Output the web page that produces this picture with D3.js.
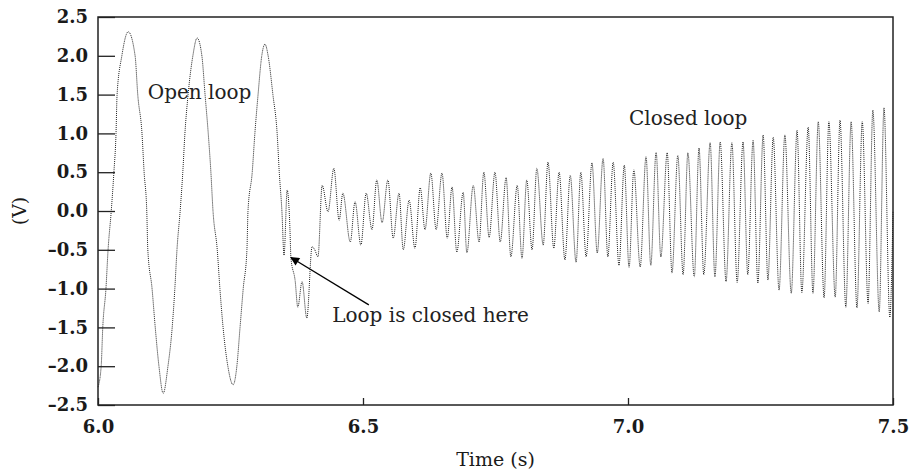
<!DOCTYPE html>
<html lang="en">
<head>
    <meta charset="UTF-8">
    <title>Open / closed loop</title>
    <script src="https://d3js.org/d3.v7.min.js"></script>
    <style>
        body { margin: 0; background: #fff; }
        .tick text {
            font-family: 'DejaVu Serif', serif;
            font-size: 18px;
            font-weight: bold;
            fill: #1a1a1a;
        }
        .note {
            font-family: 'DejaVu Serif', serif;
            font-size: 20px;
            fill: #222;
        }
        .title {
            font-family: 'DejaVu Serif', serif;
            font-size: 19px;
            fill: #1a1a1a;
        }
    </style>
</head>
<body>
<script>
    const width  = 909;
    const height = 472;
    const margin = {top: 17, right: 16, bottom: 67, left: 98};

    // open loop part (s, V)
    const openT = [6.000, 6.006, 6.009, 6.015, 6.019, 6.025, 6.030, 6.034, 6.036, 6.045, 6.057,
                   6.070, 6.075, 6.083, 6.087, 6.092, 6.094, 6.102, 6.108, 6.115, 6.123,
                   6.132, 6.140, 6.145, 6.149, 6.155, 6.160, 6.164, 6.170, 6.179, 6.187,
                   6.196, 6.202, 6.208, 6.213, 6.217, 6.225, 6.230, 6.236, 6.245, 6.255,
                   6.262, 6.268, 6.274, 6.281, 6.283, 6.291, 6.296, 6.302, 6.309, 6.315,
                   6.321, 6.330, 6.338, 6.342];
    const openV = [-2.27, -2.0, -1.5, -1.0, -0.5, 0.0, 0.5, 1.0, 1.5, 2.0, 2.31,
                   2.0, 1.5, 1.0, 0.5, 0.0, -0.5, -1.0, -1.5, -2.0, -2.35,
                   -2.0, -1.5, -1.0, -0.5, 0.0, 0.5, 1.0, 1.5, 2.0, 2.23,
                   2.0, 1.5, 1.0, 0.5, 0.0, -0.5, -1.0, -1.5, -2.0, -2.24,
                   -2.0, -1.5, -1.0, -0.5, 0.0, 0.5, 1.0, 1.5, 2.0, 2.15,
                   2.0, 1.5, 1.0, 0.5];

    // transient right after the loop is closed
    const closeT = [6.347, 6.351, 6.357, 6.362, 6.364, 6.372, 6.377, 6.385, 6.394, 6.404, 6.409, 6.415];
    const closeV = [0.0, -0.57, 0.27, -0.2, -0.6, -0.9, -1.24, -0.91, -1.38, -0.46, -0.5, -0.59];

    // closed loop oscillation, peaks and troughs
    const closedT = [6.423, 6.434, 6.445, 6.455, 6.462, 6.476, 6.485, 6.496, 6.506, 6.517,
                     6.526, 6.536, 6.547, 6.557, 6.568, 6.576, 6.587, 6.598, 6.608, 6.617,
                     6.628, 6.638, 6.649, 6.659, 6.668, 6.677, 6.689, 6.696, 6.708, 6.719,
                     6.728, 6.738, 6.749, 6.759, 6.770, 6.779, 6.791, 6.800, 6.809, 6.819,
                     6.828, 6.840, 6.849, 6.860, 6.870, 6.881, 6.891, 6.902, 6.911, 6.921,
                     6.932, 6.942, 6.953, 6.962, 6.972, 6.983, 6.993, 7.002, 7.011, 7.023,
                     7.034, 7.043, 7.053, 7.062, 7.074, 7.083, 7.094, 7.104, 7.113, 7.125,
                     7.134, 7.143, 7.155, 7.164, 7.174, 7.185, 7.196, 7.206, 7.217, 7.226,
                     7.236, 7.245, 7.255, 7.264, 7.274, 7.285, 7.296, 7.308, 7.319, 7.328,
                     7.340, 7.349, 7.359, 7.370, 7.379, 7.391, 7.400, 7.411, 7.421, 7.432,
                     7.442, 7.453, 7.462, 7.474, 7.483, 7.494, 7.500];
    const closedV = [0.33, -0.01, 0.55, -0.12, 0.23, -0.40, 0.12, -0.44, 0.23, -0.24,
                     0.40, -0.15, 0.40, -0.35, 0.23, -0.50, 0.14, -0.48, 0.30, -0.24,
                     0.49, -0.24, 0.49, -0.35, 0.31, -0.53, 0.24, -0.54, 0.33, -0.40,
                     0.50, -0.34, 0.50, -0.40, 0.43, -0.59, 0.33, -0.61, 0.40, -0.50,
                     0.55, -0.44, 0.63, -0.48, 0.50, -0.63, 0.46, -0.66, 0.50, -0.59,
                     0.62, -0.54, 0.68, -0.59, 0.63, -0.70, 0.59, -0.73, 0.53, -0.72,
                     0.70, -0.70, 0.76, -0.59, 0.75, -0.80, 0.72, -0.82, 0.75, -0.85,
                     0.81, -0.82, 0.88, -0.85, 0.89, -0.91, 0.88, -0.92, 0.89, -0.82,
                     0.91, -0.93, 0.98, -0.89, 0.95, -1.02, 0.98, -1.06, 1.04, -1.05,
                     1.08, -1.06, 1.15, -1.12, 1.15, -1.11, 1.17, -1.24, 1.15, -1.25,
                     1.15, -1.19, 1.30, -1.30, 1.33, -1.37, 0.0];

    const xTicks = [6.0, 6.5, 7.0, 7.5];
    const yTicks = [-2.5, -2.0, -1.5, -1.0, -0.5, 0.0, 0.5, 1.0, 1.5, 2.0, 2.5];

    // annotation texts and where they sit (data units)
    const noteText = ["Open loop", "Closed loop", "Loop is closed here"];
    const noteT    = [6.094, 7.002, 6.442];
    const noteV    = [1.44, 1.11, -1.43];
    const arrowFrom = [6.511, -1.21];
    const arrowTo   = [6.364, -0.60];

    const series = openT.concat(closeT, closedT)
        .map((t, i) => [t, openV.concat(closeV, closedV)[i]]);

    const x = d3.scaleLinear().domain([6.0, 7.5]).range([margin.left, width - margin.right]);
    const y = d3.scaleLinear().domain([-2.5, 2.5]).range([height - margin.bottom, margin.top]);

    const fmt = d => d.toFixed(1).replace("-", "\u2013");

    const svg = d3.select("body").append("svg").attr("width", width).attr("height", height);

    svg.append("defs").append("marker")
        .attr("id", "head")
        .attr("viewBox", "0 0 10 10")
        .attr("refX", 9).attr("refY", 5)
        .attr("markerWidth", 13).attr("markerHeight", 9)
        .attr("markerUnits", "userSpaceOnUse")
        .attr("orient", "auto")
        .append("path").attr("d", "M0,0 L10,5 L0,10 z").attr("fill", "#000");

    // signal
    const line = d3.line()
        .x(d => x(d[0]))
        .y(d => y(d[1]))
        .curve(d3.curveMonotoneX);

    svg.append("path")
        .attr("d", line(series))
        .attr("fill", "none")
        .attr("stroke", "#222")
        .attr("stroke-width", 1)
        .attr("stroke-dasharray", "1,1");

    // axes, ticks pointing inwards
    const gx = svg.append("g")
        .attr("transform", "translate(0," + y(-2.5) + ")")
        .call(d3.axisBottom(x).tickValues(xTicks).tickFormat(fmt)
            .tickSizeInner(-7).tickSizeOuter(0).tickPadding(15));
    const gy = svg.append("g")
        .attr("transform", "translate(" + x(6.0) + ",0)")
        .call(d3.axisLeft(y).tickValues(yTicks).tickFormat(fmt)
            .tickSizeInner(-17).tickSizeOuter(0).tickPadding(10));
    [gx, gy].forEach(g => {
        g.select(".domain").remove();
        g.selectAll(".tick line").attr("stroke", "#222").attr("stroke-width", 1.3);
        g.selectAll(".tick text").attr("font-family", null).attr("font-size", null);
    });

    svg.append("rect")
        .attr("x", x(6.0)).attr("y", y(2.5))
        .attr("width", x(7.5) - x(6.0)).attr("height", y(-2.5) - y(2.5))
        .attr("fill", "none").attr("stroke", "#222").attr("stroke-width", 1.5);

    // annotations
    svg.selectAll(".note")
        .data(noteText)
        .enter().append("text")
        .attr("class", "note")
        .attr("x", (d, i) => x(noteT[i]))
        .attr("y", (d, i) => y(noteV[i]))
        .text(d => d);

    svg.append("line")
        .attr("x1", x(arrowFrom[0])).attr("y1", y(arrowFrom[1]))
        .attr("x2", x(arrowTo[0])).attr("y2", y(arrowTo[1]))
        .attr("stroke", "#000").attr("stroke-width", 1.3)
        .attr("marker-end", "url(#head)");

    // axis titles
    svg.append("text")
        .attr("class", "title")
        .attr("text-anchor", "middle")
        .attr("x", (x(6.0) + x(7.5)) / 2)
        .attr("y", height - 6)
        .text("Time (s)");

    svg.append("text")
        .attr("class", "title")
        .attr("text-anchor", "middle")
        .attr("transform", "translate(26," + y(0) + ") rotate(-90)")
        .text("(V)");
</script>
</body>
</html>
